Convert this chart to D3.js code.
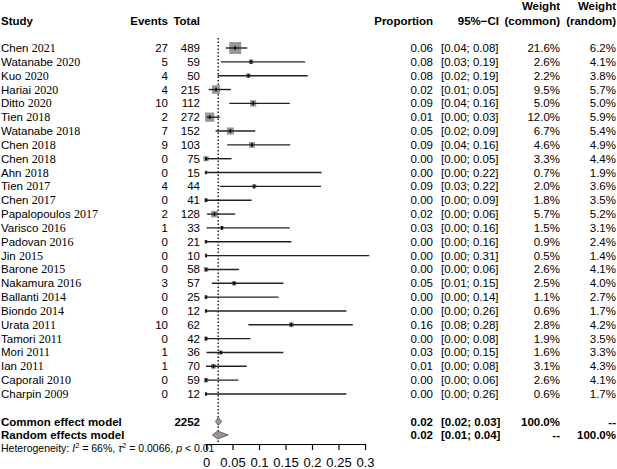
<!DOCTYPE html>
<html><head><meta charset="utf-8">
<script src="https://cdn.jsdelivr.net/npm/d3@7"></script>
<style>body{margin:0;background:#fff}svg{display:block}text{font-family:"Liberation Sans",Arial,sans-serif;fill:#000}</style>
</head><body><svg id="c" width="617" height="469"></svg>
<script>
const authors = ["Chen","Watanabe","Kuo","Hariai","Ditto","Tien","Watanabe","Chen","Chen","Ahn","Tien","Chen","Papalopoulos","Varisco","Padovan","Jin","Barone","Nakamura","Ballanti","Biondo","Urata","Tamori","Mori","Ian","Caporali","Charpin"];
const years = ["2021","2020","2020","2020","2020","2018","2018","2018","2018","2018","2017","2017","2017","2016","2016","2015","2015","2016","2014","2014","2011","2011","2011","2011","2010","2009"];
const events = [27,5,4,4,10,2,7,9,0,0,4,0,2,1,0,0,0,3,0,0,10,0,1,1,0,0];
const totals = [489,59,50,215,112,272,152,103,75,15,44,41,128,33,21,10,58,57,25,12,62,42,36,70,59,12];
const propEst = [0.055,0.085,0.080,0.019,0.089,0.007,0.046,0.087,0,0,0.091,0,0.016,0.030,0,0,0,0.053,0,0,0.161,0,0.028,0.014,0,0];
const ciLow = [0.037,0.028,0.022,0.005,0.044,0.001,0.018,0.040,0,0,0.026,0,0.002,0.001,0,0,0,0.011,0,0,0.080,0,0.001,0.000,0,0];
const ciHigh = [0.078,0.187,0.192,0.047,0.158,0.026,0.093,0.159,0.048,0.218,0.217,0.086,0.055,0.158,0.161,0.308,0.062,0.146,0.137,0.265,0.277,0.084,0.146,0.077,0.061,0.265];
const propText = ["0.06","0.08","0.08","0.02","0.09","0.01","0.05","0.09","0.00","0.00","0.09","0.00","0.02","0.03","0.00","0.00","0.00","0.05","0.00","0.00","0.16","0.00","0.03","0.01","0.00","0.00"];
const ciText = ["[0.04; 0.08]","[0.03; 0.19]","[0.02; 0.19]","[0.01; 0.05]","[0.04; 0.16]","[0.00; 0.03]","[0.02; 0.09]","[0.04; 0.16]","[0.00; 0.05]","[0.00; 0.22]","[0.03; 0.22]","[0.00; 0.09]","[0.00; 0.06]","[0.00; 0.16]","[0.00; 0.16]","[0.00; 0.31]","[0.00; 0.06]","[0.01; 0.15]","[0.00; 0.14]","[0.00; 0.26]","[0.08; 0.28]","[0.00; 0.08]","[0.00; 0.15]","[0.00; 0.08]","[0.00; 0.06]","[0.00; 0.26]"];
const wCommon = [21.6,2.6,2.2,9.5,5.0,12.0,6.7,4.6,3.3,0.7,2.0,1.8,5.7,1.5,0.9,0.5,2.6,2.5,1.1,0.6,2.8,1.9,1.6,3.1,2.6,0.6];
const wRandom = [6.2,4.1,3.8,5.7,5.0,5.9,5.4,4.9,4.4,1.9,3.6,3.5,5.2,3.1,2.4,1.4,4.1,4.0,2.7,1.7,4.2,3.5,3.3,4.3,4.1,1.7];
const pooledCommon = {est:0.023, lo:0.018, hi:0.030, label:"Common effect model", n:"2252", prop:"0.02", ci:"[0.02; 0.03]", wc:"100.0%", wr:"--"};
const pooledRandom = {est:0.022, lo:0.012, hi:0.042, label:"Random effects model", n:"", prop:"0.02", ci:"[0.01; 0.04]", wc:"--", wr:"100.0%"};
const xTicks = [0,0.05,0.1,0.15,0.2,0.25,0.3];
const refLine = 0.023;

const svg = d3.select("#c");
const x = d3.scaleLinear().domain([0,0.3]).range([206,365]);
const y = d3.scaleLinear().domain([0,25]).range([48,394]);
const sz = d3.scaleSqrt().domain([0,21.6]).range([0,11.5]);
const fs = 11.5;

// headers
const hdr = svg.append("g").attr("font-weight","bold").attr("font-size",fs);
hdr.append("text").attr("x",1).attr("y",25).text("Study");
hdr.append("text").attr("x",168).attr("y",25).attr("text-anchor","end").text("Events");
hdr.append("text").attr("x",200).attr("y",25).attr("text-anchor","end").text("Total");
hdr.append("text").attr("x",433).attr("y",25).attr("text-anchor","end").text("Proportion");
hdr.append("text").attr("x",499).attr("y",25).attr("text-anchor","end").text("95%\u2212CI");
hdr.append("text").attr("x",560).attr("y",10).attr("text-anchor","end").text("Weight");
hdr.append("text").attr("x",560).attr("y",25).attr("text-anchor","end").text("(common)");
hdr.append("text").attr("x",616).attr("y",10).attr("text-anchor","end").text("Weight");
hdr.append("text").attr("x",616).attr("y",25).attr("text-anchor","end").text("(random)");

// reference dotted line
svg.append("line").attr("x1",x(refLine)).attr("x2",x(refLine)).attr("y1",38).attr("y2",444)
  .attr("stroke","#000").attr("stroke-width",1.3).attr("stroke-dasharray","1.5,2");

const rows = svg.append("g").attr("font-size",fs);
authors.forEach((a,i)=>{
  const yy = y(i), bl = yy+4;
  const t = rows.append("text").attr("x",1).attr("y",bl);
  t.append("tspan").text(a+" ");
  t.append("tspan").attr("font-family","'Liberation Serif',serif").attr("font-size",fs+0.5).text(years[i]);
  rows.append("text").attr("x",168).attr("y",bl).attr("text-anchor","end").text(events[i]);
  rows.append("text").attr("x",200).attr("y",bl).attr("text-anchor","end").text(totals[i]);
  rows.append("text").attr("x",433).attr("y",bl).attr("text-anchor","end").text(propText[i]);
  rows.append("text").attr("x",441).attr("y",bl).text(ciText[i]);
  rows.append("text").attr("x",560).attr("y",bl).attr("text-anchor","end").text(wCommon[i].toFixed(1)+"%");
  rows.append("text").attr("x",616).attr("y",bl).attr("text-anchor","end").text(wRandom[i].toFixed(1)+"%");
  const s = sz(wCommon[i]);
  svg.append("rect").attr("x",x(propEst[i])-s/2).attr("y",yy-s/2).attr("width",s).attr("height",s)
    .attr("fill","#969696").attr("stroke","#888").attr("stroke-width",0.5);
  svg.append("line").attr("x1",x(ciLow[i])).attr("x2",x(ciHigh[i])).attr("y1",yy).attr("y2",yy)
    .attr("stroke","#222").attr("stroke-width",1.4);
  svg.append("line").attr("x1",x(propEst[i])).attr("x2",x(propEst[i])).attr("y1",yy-1.8).attr("y2",yy+1.8)
    .attr("stroke","#000").attr("stroke-width",1.6);
});

// pooled
[[pooledCommon,421.5],[pooledRandom,435]].forEach(([p,yy])=>{
  const g = svg.append("g").attr("font-size",fs).attr("font-weight","bold");
  g.append("text").attr("x",1).attr("y",yy+4).text(p.label);
  g.append("text").attr("x",200).attr("y",yy+4).attr("text-anchor","end").text(p.n);
  g.append("text").attr("x",433).attr("y",yy+4).attr("text-anchor","end").text(p.prop);
  g.append("text").attr("x",441).attr("y",yy+4).text(p.ci);
  g.append("text").attr("x",560).attr("y",yy+4).attr("text-anchor","end").text(p.wc);
  g.append("text").attr("x",616).attr("y",yy+4).attr("text-anchor","end").text(p.wr);
  const h = 4;
  svg.append("path").attr("d",`M${x(p.lo)},${yy} L${x(p.est)},${yy-h} L${x(p.hi)},${yy} L${x(p.est)},${yy+h} Z`)
    .attr("fill","#969696").attr("stroke","#555").attr("stroke-width",0.8);
});

// heterogeneity
const het = svg.append("text").attr("x",1).attr("y",452).attr("font-size",10.5);
het.append("tspan").text("Heterogeneity: ");
het.append("tspan").attr("font-style","italic").text("I");
het.append("tspan").attr("dy",-4).attr("font-size",7.5).text("2");
het.append("tspan").attr("dy",4).text(" = 66%,  ");
het.append("tspan").attr("font-style","italic").text("\u03C4");
het.append("tspan").attr("dy",-4).attr("font-size",7.5).text("2");
het.append("tspan").attr("dy",4).text(" = 0.0066, ");
het.append("tspan").attr("font-style","italic").text("p");
het.append("tspan").text(" < 0.01");

// axis
const ax = svg.append("g").attr("transform","translate(0,444)")
  .call(d3.axisBottom(x).tickValues(xTicks).tickFormat(d3.format("~g")).tickSize(6).tickSizeOuter(0).tickPadding(8));
ax.select(".domain").attr("stroke","#000").attr("stroke-width",1.2);
ax.selectAll(".tick line").attr("stroke","#000").attr("stroke-width",1.2);
ax.selectAll(".tick text").attr("font-size",13).attr("font-family","'Liberation Sans',Arial,sans-serif").attr("fill","#000");
</script></body></html>
